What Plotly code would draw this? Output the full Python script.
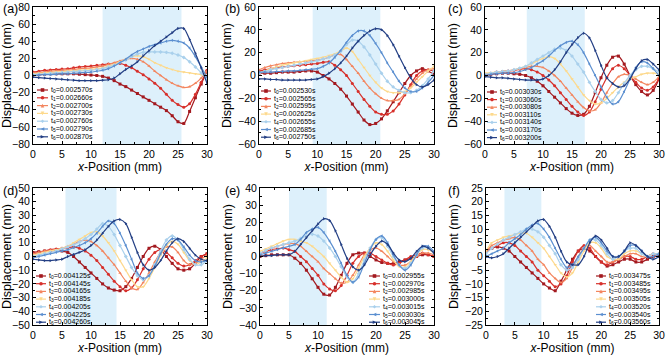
import plotly.graph_objects as go

W, H = 668, 357
x_mm = list(range(31))

# ---------------- data (displacement, nm) at x = 0..30 mm ----------------
disp_a = [
    [1,1,1.5,2,2,2,2,2,1.5,1,0.5,0,-1,-3,-6,-10,-13,-17,-21,-25,-29,-33,-37,-41,-47,-54,-56,-42,-26,-10,5],
    [4,5,6,6.5,7,7.5,8,9,10,10.5,11,12,12.5,13.5,14,14,12,9,5,1,-4,-9,-15,-22,-29,-34,-37,-33,-22,-8,6],
    [3,3.5,4,5,5.5,6,6.5,7,8,8.5,9,10,11,13,15,17,19,20,19,16,11,5,0,-5,-9,-12,-14,-13,-9,-3,5],
    [2,2.5,3,3.5,4,4.5,5,5.5,6,6.5,7,8,9,11,13,16,19,22,23,22,19,15,12,9,7,5,4,3,2,1,0],
    [1,1.5,2,2.5,3,3.5,4,4.5,5,5.5,6,7,8,10,12,15,18,22,25,27,27.5,27.5,27.5,27,26,24,21,16,10,3,-5],
    [0,0.5,1,1,1.5,2,2,2.5,3,3.5,4,5,6,8,11,15,19,24,28,31,34,36,38,40,41,40,38,32,22,10,-2],
    [-2,-2.5,-3,-3.5,-4,-4.5,-5,-5.5,-6,-6,-6,-6,-5.5,-5,-3,2,7,11,16,23,29,35,40,45,50,55,55,42,26,9,-9],
]
disp_b = [
    [2,2,2,2.5,3,3,3,3.5,4,4,3,0,-3,-7,-12,-18,-25,-32,-39,-43,-42,-38,-31,-23,-15,-7,0,4,6,4,1],
    [4,5,6,7,7.5,8,8.5,9,9.5,10,10.5,11.5,12,9,5,0,-7,-14,-21,-27,-32,-34,-34,-31,-25,-17,-8,0,4,5,4],
    [5,7,8.5,9.5,10.5,11,11.5,12,12.5,13,13.5,14.5,16,18,18.5,14,8,2,-5,-11,-16,-20,-22,-22,-21,-16,-10,-3,2,5,6],
    [2,4,6,7.5,9,10,11,12,13,14,15,16,17.5,19,21.5,24,21,14,7,0,-6,-11,-14,-15,-15,-14,-11,-6,-1,4,8],
    [2,3.5,5,6,7,8,9,10,11,12,13,14.5,16,18,21,27,31,30,25,18,10,2,-5,-10,-13,-15,-15,-13,-9,-3,4],
    [3,3,3,3.5,3.5,4,4,4.5,5,5.5,6,8,11,16,22,29,35,39,39,35,28,20,11,3,-5,-11,-14,-14,-11,-6,0],
    [-3,-3,-3.5,-3.5,-4,-4,-4,-4,-4,-3.5,-3,-1,2,6,11,17,24,30,35,39,41,40,35,27,17,7,-2,-8,-10,-8,-4],
]
disp_c = [
    [0,1,1.5,2,2,1.5,1,0,-2,-5,-9,-14,-19,-24,-29,-33,-35,-34,-27,-15,-2,9,16,17,10,0,-8,-14,-17,-13,-3],
    [1,2,3,3.5,4,4.5,5.5,6,5,3,0,-4,-9,-15,-21,-27,-32,-35,-32,-23,-12,-2,6,9,6,0,-6,-11,-13,-10,-3],
    [1,2,3,3.5,4,5,6,7,8,8,7,4,0,-5,-11,-17,-23,-28,-31,-30,-24,-15,-7,-1,1,0,-3,-6,-8,-6,-1],
    [2,2.5,3,3.5,4,5,6.5,8,10,13,15,16.5,15,10,4,-3,-10,-17,-22,-25,-24,-20,-15,-10,-6,-3,-1,1,2,2,1],
    [1,2,3,3.5,4,5,6.5,8,11,14,17,20,23,24,22,17,10,3,-6,-14,-21,-24,-22,-15,-7,0,5,8,8,6,3],
    [0,1,1.5,2,2,2.5,3.5,5,7,10,13,17,22,26,29,30,27,20,10,0,-10,-19,-25,-23,-14,-3,7,12,11,6,0],
    [-1,-1.5,-2,-2,-2.5,-3,-3.5,-4,-4,-4,-3,0,5,12,20,27,33,37,33,22,9,-2,-7,-10,-9,-3,6,13,14,10,5],
]
disp_d = [
    [3,3.5,4,4,4.5,4,3,0,-4,-8,-12,-16,-20,-23,-24.5,-25,-22,-16,-8,0,6,7.5,5,0,-5,-9,-10,-9,-5,0,2],
    [2,3,4,5,5.5,6,6.5,7,6,4,1,-3,-8,-13,-18,-22,-25,-23,-17,-9,-2,3,5,3,-1,-5,-7,-6,-3,0,2],
    [2,3,4,4.5,5,6,7.5,9,11,12,11,8,4,-1,-6,-12,-18,-23,-24,-19,-12,-4,3,7,7,3,-3,-6,-5,-2,1],
    [1,2,3,4,5,6,7.5,10,12.5,15,17.5,18,15,10,4,-3,-10,-17,-22,-22,-16,-8,1,8,11,9,3,-3,-6,-4,-1],
    [0,1,2,3,4,5.5,7,8.5,10.5,13,16,20,24,22,16,8,0,-8,-14,-17,-14,-6,4,12,15,12,5,-2,-6,-6,-3],
    [-1,0,1,2,3,4,5,6.5,8,10,13,17,22,26,24,17,8,-2,-12,-16,-14,-7,2,9,13,12,7,1,-3,-4,-3],
    [-2,-2.5,-3,-3,-2.5,-2,0,1.5,3,5,8,12,17,22,26,27,24,14,3,-6,-10,-8,-3,4,10,13,11,6,1,-2,-3],
]
disp_e = [
    [0,0.5,1,1,1,1,-1,-4,-8,-13,-18,-22,-22.5,-18,-11,-4,1,2,2,0,-2,-3.5,-4,-4,-3,-2,-1,0,1,1,0],
    [2,3,4,4.5,5,4,3,0,-3,-7,-11,-16,-19,-20,-17,-11,-4,0,2,2,0,-2,-4,-5,-4,-2,0,1,2,1,0],
    [2,3.5,5,6,7,7.5,7.5,6,3,0,-3,-7,-10,-13,-15.5,-15,-11,-5,1,4,5,3,0,-3,-5,-5,-3,0,2,2,1],
    [3,4.5,6,7.5,9,10,10,9,8,6,3,0,-4,-8,-12,-15,-13,-7,0,5,8,7,3,-2,-6,-6,-3,1,4,4,2],
    [2,3.5,5,6,7,8,9,10.5,12,13,12,9,5,0,-6,-12,-15,-10,-2,5,10,11,6,0,-5,-7,-4,1,5,5,2],
    [1,2,3,4,5,6,7,10,14,16,17,14,9,3,-4,-11,-15,-12,-4,4,10,12,8,1,-5,-8,-5,1,6,6,3],
    [0,0.5,0.5,1,1,1,3,7,11,15,19,22,21,15,7,-1,-6,-8,-5,1,6,9,7,2,-2,-3,-1,3,6,5,2],
]
disp_f = [
    [2,3,3.5,3,2,0,-2,-4,-6,-8,-10,-11.5,-12.5,-9,-5,-1,2,3,2,0,-2,-3.5,-3,-2,-1,-1,-2,-2,-1,0,0],
    [2,3,4,5,5,4,2,0,-2,-5,-7,-9,-11,-10,-7,-2,2,4,3,0,-2,-3,-2,-1,0,0,-1,-1,0,1,1],
    [2,4,5,6,6.5,7,6,4,2,-1,-3,-6,-8,-9.5,-8,-4,0,3,4,2,0,-2,-2,-1,0,1,1,0,0,1,1],
    [2,5,6,7,7.5,8,8.5,8.5,7,5,3,0,-3,-6,-7.5,-6,-2,2,5,5,3,0,-1,-1,1,2,2,1,0,1,1],
    [1,3,4.5,6,7,8,9,10,10,9,7,4,1,-3,-5,-4,-1,3,6,6,4,1,-1,0,2,3,3,1,0,1,1],
    [0,1,2,3,5,6.5,8,10,11.5,12,10,7,3,-1,-4,-3,0,3,6,7,5,2,0,0,2,4,4,2,0,0,1],
    [0,-0.5,0,1,3,5,7,9,11,13,13.5,11,7,2,-2,-3,-3,0,5,7.5,6,3,0,0,2,5,4,2,0,-1,0],
]

times_a = ["0.002570", "0.002660", "0.002700", "0.002730", "0.002760", "0.002790", "0.002870"]
times_b = ["0.002530", "0.002565", "0.002595", "0.002625", "0.002655", "0.002685", "0.002750"]
times_c = ["0.003030", "0.003060", "0.003080", "0.003110", "0.003140", "0.003170", "0.003200"]
times_d = ["0.004125", "0.004145", "0.004165", "0.004185", "0.004205", "0.004225", "0.004260"]
times_e = ["0.002955", "0.002970", "0.002985", "0.003000", "0.003015", "0.003030", "0.003045"]
times_f = ["0.003475", "0.003485", "0.003495", "0.003505", "0.003520", "0.003540", "0.003560"]

shade_ranges = [(12, 25.6), (9.2, 20.8), (7.2, 17.2), (5.6, 14.4), (5.0, 11.5), (3.2, 9.6)]
y_ranges = [(-80, 80, 20), (-60, 60, 20), (-60, 60, 20), (-50, 50, 10), (-40, 40, 10), (-25, 25, 5)]
panel_labels = ["(a)", "(b)", "(c)", "(d)", "(e)", "(f)"]
x_ticks = [0, 5, 10, 15, 20, 25, 30]

# ---------------- styling ----------------
colors = ["#a3191f", "#d7302b", "#f3865f", "#fdd98c", "#a9d0ec", "#5b8fd0", "#233f84"]
symbols = ["square", "circle", "triangle-up", "triangle-down", "diamond", "triangle-left", "triangle-right"]
FONT = "Liberation Sans, Arial, sans-serif"

# panel frames in pixels: (left, right, top, bottom)
frames = [
    (33, 207, 7, 144), (259, 434, 7, 144), (485, 659, 7, 144),
    (33, 207, 188, 325), (260, 434, 188, 325), (486, 659, 188, 325),
]
# legend layout in pixels: (line x0, line x1, text x, first row y, row step)
legend_px = [
    (37, 48, 50, 90, 7.8), (261, 271, 273, 91, 7.7), (487, 497, 499, 92, 7.6),
    (36, 46, 48, 276, 7.7), (369, 380, 382, 276, 7.7), (596, 606, 608, 276, 7.7),
]
label_px = [(1, 9), (223, 9), (446, 9), (1, 191), (223, 191), (446, 191)]

all_disp = [disp_a, disp_b, disp_c, disp_d, disp_e, disp_f]
all_times = [times_a, times_b, times_c, times_d, times_e, times_f]


def px2paper(px, py):
    return px / W, 1 - py / H


def marker_shape(sym, cx, cy, color, s=1.8):
    if sym == "circle":
        x0, y0 = px2paper(cx - s, cy + s)
        x1, y1 = px2paper(cx + s, cy - s)
        return dict(type="circle", xref="paper", yref="paper", x0=x0, y0=y0, x1=x1, y1=y1,
                    fillcolor=color, line=dict(width=0))
    pts = {
        "square": [(-s, -s), (s, -s), (s, s), (-s, s)],
        "triangle-up": [(0, -s), (s, s), (-s, s)],
        "triangle-down": [(0, s), (s, -s), (-s, -s)],
        "diamond": [(0, -s), (s, 0), (0, s), (-s, 0)],
        "triangle-left": [(-s, 0), (s, -s), (s, s)],
        "triangle-right": [(s, 0), (-s, -s), (-s, s)],
    }[sym]
    path = ""
    for i, (dx, dy) in enumerate(pts):
        X, Y = px2paper(cx + dx, cy + dy)
        path += ("M" if i == 0 else "L") + f"{X:.5f},{Y:.5f} "
    path += "Z"
    return dict(type="path", xref="paper", yref="paper", path=path,
                fillcolor=color, line=dict(width=0))


fig = go.Figure()
shapes = []
annotations = []
layout_axes = {}

for p in range(6):
    xa = "x" if p == 0 else f"x{p+1}"
    ya = "y" if p == 0 else f"y{p+1}"
    l, r, t, b = frames[p]
    for k in range(7):
        fig.add_trace(go.Scatter(
            x=x_mm, y=all_disp[p][k], xaxis=xa, yaxis=ya,
            mode="lines+markers", showlegend=False,
            line=dict(color=colors[k], width=1.2, shape="spline", smoothing=0.8),
            marker=dict(symbol=symbols[k], size=3, color=colors[k]),
        ))
    y0, y1, dy = y_ranges[p]
    ax_common = dict(
        showline=True, linecolor="black", linewidth=1, mirror="allticks",
        ticks="inside", ticklen=3, tickcolor="black", tickwidth=1,
        showgrid=False, zeroline=False, automargin=False,
        tickfont=dict(family=FONT, size=10.5, color="black"),
    )
    layout_axes["xaxis" if p == 0 else f"xaxis{p+1}"] = dict(
        ax_common, domain=[l / W, r / W], anchor=ya, range=[0, 30],
        tickvals=x_ticks,
        minor=dict(ticks="inside", ticklen=2, tickcolor="black", dtick=2.5, showgrid=False),
        title=dict(text="<i>x</i>-Position (mm)", font=dict(family=FONT, size=12, color="black"), standoff=4),
    )
    layout_axes["yaxis" if p == 0 else f"yaxis{p+1}"] = dict(
        ax_common, domain=[1 - b / H, 1 - t / H], anchor=xa, range=[y0, y1],
        tickmode="linear", tick0=y0, dtick=dy,
        minor=dict(ticks="inside", ticklen=2, tickcolor="black", dtick=dy / 2, showgrid=False),
        title=dict(text="Displacement (nm)", font=dict(family=FONT, size=12.5, color="black"), standoff=3),
    )
    s0, s1 = shade_ranges[p]
    shapes.append(dict(type="rect", xref=xa, yref=f"{ya} domain", x0=s0, x1=s1, y0=0, y1=1,
                       fillcolor="#ddf0fb", line=dict(width=0), layer="below"))
    # legend (drawn as annotations + line shapes with a marker glyph)
    lx0, lx1, tx, ry, step = legend_px[p]
    for k in range(7):
        yy = ry + k * step
        X0, Y0 = px2paper(lx0, yy)
        X1, _ = px2paper(lx1, yy)
        shapes.append(dict(type="line", xref="paper", yref="paper",
                           x0=X0, x1=X1, y0=Y0, y1=Y0,
                           line=dict(color=colors[k], width=1.2)))
        shapes.append(marker_shape(symbols[k], (lx0 + lx1) / 2, yy, colors[k]))
        annotations.append(dict(
            xref="paper", yref="paper", x=tx / W, y=Y0, xanchor="left", yanchor="middle",
            text=f"t<sub>{k}</sub>={all_times[p][k]}s", showarrow=False, borderpad=0,
            font=dict(family=FONT, size=7, color="black"),
        ))
    lxp, lyp = label_px[p]
    annotations.append(dict(
        xref="paper", yref="paper", x=lxp / W, y=1 - lyp / H, xanchor="left", yanchor="middle",
        text=panel_labels[p], showarrow=False, font=dict(family=FONT, size=12.5, color="black"),
    ))

fig.update_layout(
    template="none",
    width=W, height=H, margin=dict(l=0, r=0, t=0, b=0, autoexpand=False),
    paper_bgcolor="white", plot_bgcolor="rgba(0,0,0,0)",
    shapes=shapes, annotations=annotations, showlegend=False,
    **layout_axes,
)

fig.write_html("out.html", config={"displayModeBar": False},
               post_script="document.body.style.margin='0';document.body.style.padding='0';")
